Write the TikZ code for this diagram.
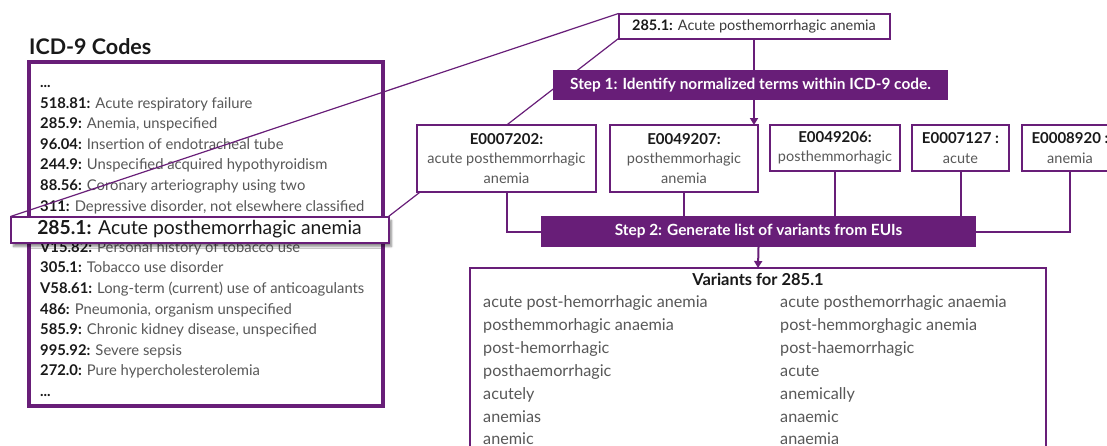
\documentclass[tikz,border=0pt]{standalone}
\usepackage{fontspec}
\setmainfont{Lato}
\usetikzlibrary{arrows.meta,shadows.blur,calc}
\definecolor{purp}{RGB}{104,30,120}
\definecolor{codec}{RGB}{25,25,25}
\definecolor{descc}{RGB}{88,88,88}
\newcommand{\icd}[2]{{\color{codec}\bfseries #1:} {\color{descc}#2}}
\newcommand{\etitlefont}{\fontsize{15}{19.5}\selectfont\bfseries}
\begin{document}
\begin{tikzpicture}[x=1pt,y=-1pt,
  box/.style={draw=purp, line width=2pt, fill=white, inner sep=0pt, outer sep=0pt, anchor=north west},
  stepbox/.style={fill=purp, inner sep=0pt, outer sep=0pt, anchor=north west, text=white,
     font=\fontsize{15.4}{17}\selectfont\bfseries},
  ebox/.style={box, align=center, font=\fontsize{14.5}{19.5}\selectfont},
  icdline/.style={anchor=base west, inner sep=0pt, font=\fontsize{14.8}{16}\selectfont},
  varline/.style={anchor=base west, inner sep=0pt, font=\fontsize{16.2}{18}\selectfont, text=descc},
  zoomline/.style={draw=purp, line width=1.2pt},
  conn/.style={draw=purp, line width=2pt},
  arr/.style={conn, -{Triangle[width=8pt,length=7pt]}}
]
\useasboundingbox (0,0) rectangle (1107,445);
\clip (0,0) rectangle (1107,445);

% title
\node[anchor=base west, inner sep=0pt, font=\fontsize{21.5}{24}\selectfont\bfseries, text=codec] (title) at (29,54) {ICD-9 Codes};

% ICD box
\node[draw=purp, line width=4pt, fill=white, inner sep=0pt, outer sep=0pt, anchor=north west,
      minimum width=354pt, minimum height=344pt] (icd) at (29,62) {};
\node[icdline, text=codec] (l0) at (40,87.4) {\bfseries ...};
\node[icdline] (l1) at (40,108) {\icd{518.81}{Acute respiratory failure}};
\node[icdline] (l2) at (40,128.6) {\icd{285.9}{Anemia, unspecified}};
\node[icdline] (l3) at (40,149.2) {\icd{96.04}{Insertion of endotracheal tube}};
\node[icdline] (l4) at (40,169.8) {\icd{244.9}{Unspecified acquired hypothyroidism}};
\node[icdline] (l5) at (40,190.4) {\icd{88.56}{Coronary arteriography using two}};
\node[icdline] (l6) at (40,211) {\icd{311}{Depressive disorder, not elsewhere classified}};
\node[icdline] (l8) at (40,252.2) {\icd{V15.82}{Personal history of tobacco use}};
\node[icdline] (l9) at (40,272.8) {\icd{305.1}{Tobacco use disorder}};
\node[icdline] (l10) at (40,293.4) {\icd{V58.61}{Long-term (current) use of anticoagulants}};
\node[icdline] (l11) at (40,314) {\icd{486}{Pneumonia, organism unspecified}};
\node[icdline] (l12) at (40,334.6) {\icd{585.9}{Chronic kidney disease, unspecified}};
\node[icdline] (l13) at (40,355.2) {\icd{995.92}{Severe sepsis}};
\node[icdline] (l14) at (40,375.8) {\icd{272.0}{Pure hypercholesterolemia}};
\node[icdline, text=codec] (l15) at (40,396.4) {\bfseries ...};

% top box
\node[box, minimum width=271pt, minimum height=25pt, font=\fontsize{14.5}{16}\selectfont] (top) at (618.5,13.5)
  {{\color{codec}\bfseries 285.1:} {\color{codec!85}Acute posthemorrhagic anemia}};

% highlight box shadow
\node[box, minimum width=378pt, minimum height=26pt, blur shadow={shadow xshift=3pt, shadow yshift=-4pt, shadow blur steps=6, shadow opacity=45}] (hl) at (10.5,216.5) {};

% zoom lines
\draw[zoomline] (hl.north west) -- (top.north west);
\draw[zoomline] (hl.north east) -- (top.south west);

% highlight box on top of lines
\node[box, minimum width=378pt, minimum height=26pt,
      font=\fontsize{19.3}{21}\selectfont, text=codec] (hl2) at (10.5,216.5)
  {{\bfseries 285.1:} Acute posthemorrhagic anemia};

% E boxes
\node[ebox, minimum width=179pt, minimum height=67pt] (e1) at (417,125)
  {{\etitlefont\color{codec}E0007202:}\\{\color{descc}acute posthemmorrhagic}\\{\color{descc}anemia}};
\node[ebox, minimum width=148pt, minimum height=67pt] (e2) at (610,125)
  {{\etitlefont\color{codec}E0049207:}\\{\color{descc}posthemmorhagic}\\{\color{descc}anemia}};
\node[ebox, minimum width=130pt, minimum height=46pt] (e3) at (770,125)
  {{\etitlefont\color{codec}E0049206:}\\{\color{descc}posthemmorhagic}};
\node[ebox, minimum width=97pt, minimum height=46pt] (e4) at (912,125)
  {{\etitlefont\color{codec}E0007127 :}\\{\color{descc}acute}};
\node[ebox, minimum width=96pt, minimum height=46pt] (e5) at (1022,125)
  {{\etitlefont\color{codec}E0008920 :}\\{\color{descc}anemia}};

% arrow from top box through step 1
\draw[arr] (top.south) -- (top.south |- e2.north);

% step 1
\node[stepbox, minimum width=395pt, minimum height=30pt] (s1) at (553,70)
  {Step 1: Identify normalized terms within ICD-9 code.};

% step 2
\node[stepbox, minimum width=435pt, minimum height=31pt] (s2) at (541,216)
  {Step 2: Generate list of variants from EUIs};

% connectors to step 2
\draw[conn] (e1.south) |- (s2.west);
\draw[conn] (e2.south) -- (e2.south |- s2.north);
\draw[conn] (e3.south) -- (e3.south |- s2.north);
\draw[conn] (e4.south) -- (e4.south |- s2.north);
\draw[conn] (e5.south) |- (s2.east);

% variants box
\node[box, minimum width=576pt, minimum height=200pt] (var) at (470,268) {};
\draw[arr] (s2.south) -- (var.north);
\node[anchor=base, inner sep=0pt, font=\fontsize{16.5}{18}\selectfont\bfseries, text=codec] (vh) at (758,285) {Variants for 285.1};

\node[varline] (a1) at (483,307.5) {acute post-hemorrhagic anemia};
\node[varline] (a2) at (483,330.5) {posthemmorhagic anaemia};
\node[varline] (a3) at (483,353.5) {post-hemorrhagic};
\node[varline] (a4) at (483,376.5) {posthaemorrhagic};
\node[varline] (a5) at (483,399.5) {acutely};
\node[varline] (a6) at (483,422.5) {anemias};
\node[varline] (a7) at (483,444.5) {anemic};
\node[varline] (b1) at (780,307.5) {acute posthemorrhagic anaemia};
\node[varline] (b2) at (780,330.5) {post-hemmorghagic anemia};
\node[varline] (b3) at (780,353.5) {post-haemorrhagic};
\node[varline] (b4) at (780,376.5) {acute};
\node[varline] (b5) at (780,399.5) {anemically};
\node[varline] (b6) at (780,422.5) {anaemic};
\node[varline] (b7) at (780,444.5) {anaemia};
\end{tikzpicture}
\end{document}
